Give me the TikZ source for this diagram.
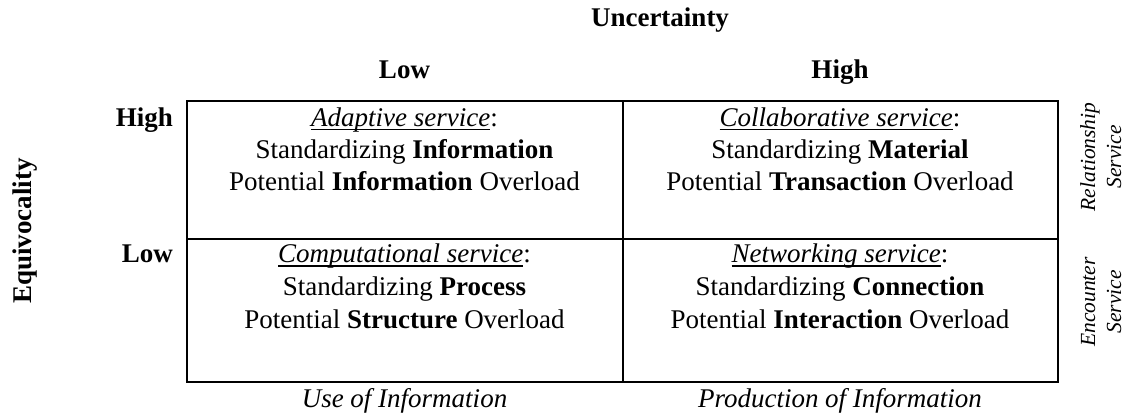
\documentclass[tikz,border=0pt]{standalone}
\usepackage{fontspec}
\setmainfont{Liberation Serif}
\newlength\undlwidth
% underline at a fixed depth below the baseline, crossing descenders
\newcommand\undl[1]{\settowidth\undlwidth{#1}\rlap{\rule[-3.6pt]{\undlwidth}{1.4pt}}#1}
\begin{document}
\begin{tikzpicture}[x=1pt,y=-1pt,
  txt/.style={inner sep=0pt, anchor=base, font=\fontsize{27}{32}\selectfont},
  head/.style={txt, font=\fontsize{27}{32}\selectfont\bfseries},
  side/.style={inner sep=0pt, anchor=base, rotate=90, font=\fontsize{21.5}{26}\selectfont\itshape},
  grid/.style={line width=2pt}]
\useasboundingbox (0,0) rectangle (1128,414);

% the 2x2 matrix
\draw[grid] (186.5,101) rectangle (1058,382);
\draw[grid] (622.7,101) -- (622.7,382);
\draw[grid] (186.5,239) -- (1058,239);

% axis titles
\node[head] (unc) at (660,26.7) {Uncertainty};
\node[head] (collow) at (404.5,79) {Low};
\node[head] (colhigh) at (840,79) {High};
\node[head, rotate=90] (equ) at (31,231) {Equivocality};
\node[head, anchor=base east] (rowhigh) at (173,126.7) {High};
\node[head, anchor=base east] (rowlow) at (173,263) {Low};

% upper left cell
\node[txt] (a1) at (404.5,126.7) {\undl{\textit{Adaptive service}}:};
\node[txt] (a2) at (404.5,159) {Standardizing \textbf{Information}};
\node[txt] (a3) at (404.5,191) {Potential \textbf{Information} Overload};

% upper right cell
\node[txt] (b1) at (840,126.7) {\undl{\textit{Collaborative service}}:};
\node[txt] (b2) at (840,159) {Standardizing \textbf{Material}};
\node[txt] (b3) at (840,191) {Potential \textbf{Transaction} Overload};

% lower left cell
\node[txt] (c1) at (404.5,263) {\undl{\textit{Computational service}}:};
\node[txt] (c2) at (404.5,296) {Standardizing \textbf{Process}};
\node[txt] (c3) at (404.5,328) {Potential \textbf{Structure} Overload};

% lower right cell
\node[txt] (d1) at (840,263) {\undl{\textit{Networking service}}:};
\node[txt] (d2) at (840,296) {Standardizing \textbf{Connection}};
\node[txt] (d3) at (840,328) {Potential \textbf{Interaction} Overload};

% column captions below the matrix
\node[txt, font=\fontsize{27}{32}\selectfont\itshape] (use) at (404.5,407) {Use of Information};
\node[txt, font=\fontsize{27}{32}\selectfont\itshape] (prod) at (840,407) {Production of Information};

% row captions on the right
\node[side] (rel1) at (1095,157) {Relationship};
\node[side] (rel2) at (1121,157) {Service};
\node[side] (enc1) at (1095,302) {Encounter};
\node[side] (enc2) at (1121,302) {Service};
\end{tikzpicture}
\end{document}
